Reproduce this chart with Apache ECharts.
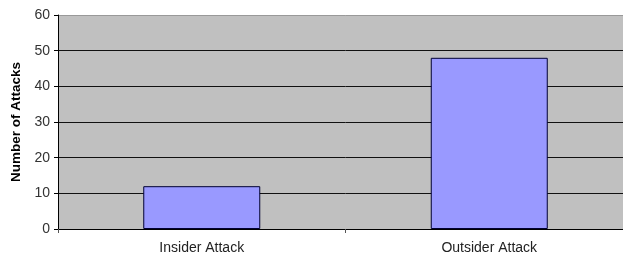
<!DOCTYPE html>
<html>
	<head>
		<meta charset="UTF-8">
		<title>Number of Attacks</title>
		<script type="text/javascript" src="https://cdn.jsdelivr.net/npm/echarts@6/dist/echarts.min.js"></script>
		<style>
			html,body{margin:0;padding:0;background:#fff;overflow:hidden;}
		</style>
	</head>
	<body>
		<!--plot runs past the right edge of the window, as in the picture-->
		<div id="main" style="width: 633px;height: 259px;"></div>
		<script type="text/javascript">
			// data
			var categories=['Insider Attack','Outsider Attack'];
			var attacks=[12,48];
			var yTicks=[0,10,20,30,40,50,60];

			var myChart=echarts.init(document.getElementById('main'));

			var option={
				animation:false,
				textStyle:{fontFamily:'Liberation Sans, Arial, sans-serif'},
				grid:{
					left:58,
					right:0,
					top:15,
					bottom:30,
					outerBoundsMode:'none',
					containLabel:false,
					show:true,
					backgroundColor:'#c0c0c0',
					borderWidth:0
				},
				xAxis:{
					type:'category',
					data:categories,
					axisLine:{show:true,lineStyle:{color:'#000',width:1}},
					axisTick:{show:true,length:4,lineStyle:{color:'#555'}},
					axisLabel:{color:'#222',fontSize:14,margin:12},
					splitLine:{show:false}
				},
				yAxis:{
					type:'value',
					min:yTicks[0],
					max:yTicks[yTicks.length-1],
					interval:10,
					name:'Number of Attacks',
					nameLocation:'middle',
					nameGap:34,
					nameTextStyle:{fontWeight:'bold',fontSize:13.5,color:'#000'},
					axisLine:{show:true,lineStyle:{color:'#000',width:1}},
					axisTick:{show:true,length:4,lineStyle:{color:'#000'}},
					axisLabel:{color:'#333',fontSize:14,margin:8},
					splitLine:{
						show:true,
						lineStyle:{color:['#000','#111','#111','#111','#111','#111','#999'],width:1}
					}
				},
				series:[{
					type:'bar',
					data:attacks,
					barWidth:117,
					itemStyle:{
						color:'#9999ff',
						borderColor:'#000033',
						borderWidth:1
					}
				}]
			};

			myChart.setOption(option);
		</script>
	</body>
</html>
